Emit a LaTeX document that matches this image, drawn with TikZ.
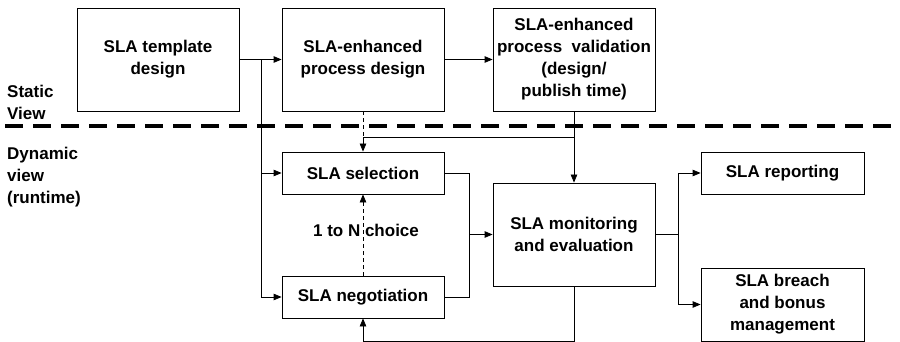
\documentclass[tikz,border=0pt]{standalone}
\usepackage{fontspec}
\setmainfont{Liberation Sans}
\usetikzlibrary{arrows.meta}
\begin{document}
\begin{tikzpicture}[x=1pt,y=-1pt,
  every node/.style={font=\fontsize{17}{22}\selectfont\bfseries},
  box/.style={draw,line width=0.8pt,fill=white,align=center,inner sep=0pt,
              minimum width=162pt},
  bigbox/.style={box,minimum height=103pt},
  smallbox/.style={box,minimum height=42pt},
  lbl/.style={align=left,anchor=west,inner sep=0pt},
  conn/.style={line width=0.8pt},
  arr/.style={conn,-{Triangle[length=8pt,width=6.5pt]}},
  darr/.style={arr,dash pattern=on 4pt off 3pt},
  sep/.style={line width=4pt,dash pattern=on 18pt off 10pt}]
\useasboundingbox (0,0) rectangle (900,342);

% separator between static and dynamic view
\draw[sep] (5,126) -- (900,126);
\node[lbl] (static) at (7,102) {Static\\View};
\node[lbl] (dynamic) at (7,177.5) {Dynamic\\view\\(runtime)};

% design-time steps
\node[bigbox] (tpl) at (158,59.5) {SLA template\\design};
\node[bigbox] (pd)  at (363,59.5) {SLA-enhanced\\process design};
\node[bigbox] (val) at (574,59.5) {SLA-enhanced\\process~ validation\\(design/\\publish time)};

% runtime steps
\node[smallbox] (sel) at (363,173) {SLA selection};
\node[smallbox] (neg) at (363,297) {SLA negotiation};
\node[bigbox]   (mon) at (574,234.5) {SLA monitoring\\and evaluation};
\node[smallbox,minimum width=163pt] (rep) at (782.5,173) {SLA reporting};
\node[box,minimum width=163pt,minimum height=73pt] (brc) at (782.5,304.5)
     {SLA breach\\and bonus\\management};
\node (choice) at (366,230) {1 to N choice};

% junction points
\coordinate (b1) at (261,59.5);
\coordinate (j1) at (363,137);
\coordinate (j2) at (574,137);
\coordinate (m1) at (469,234.5);
\coordinate (m2) at (678,234.5);
\coordinate (fb) at (574,341);

% connectors
\draw[arr] (tpl.east) -- (pd.west);
\draw[arr] (b1) |- (sel.west);
\draw[arr] (b1) |- (neg.west);
\draw[arr] (pd.east) -- (val.west);
\draw[conn,dash pattern=on 4pt off 3pt] (pd.south) -- (j1);
\draw[conn] (val.south) -- (j2);
\draw[arr] (j2) -| (sel.north);
\draw[arr] (j2) -- (mon.north);
\draw[darr] (neg.north) -- (sel.south);
\draw[conn] (sel.east) -| (m1);
\draw[conn] (neg.east) -| (m1);
\draw[arr] (m1) -- (mon.west);
\draw[conn] (mon.east) -- (m2);
\draw[arr] (m2) |- (rep.west);
\draw[arr] (m2) |- (brc.west);
\draw[arr] (mon.south) -- (fb) -| (neg.south);
\end{tikzpicture}
\end{document}
